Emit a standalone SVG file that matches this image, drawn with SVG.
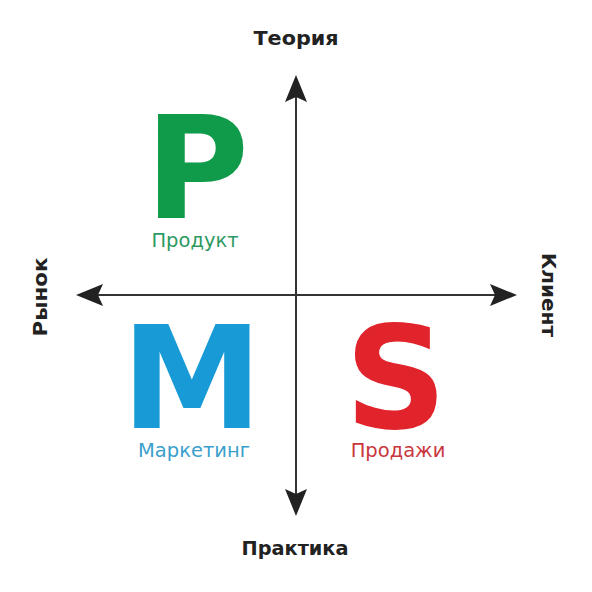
<svg xmlns="http://www.w3.org/2000/svg" width="592" height="592" viewBox="0 0 592 592">
<style>
.axis{stroke:#333;stroke-width:2;fill:none}
.head{fill:#222}
.lbl{font-family:"DejaVu Sans",Verdana,sans-serif;font-weight:bold;font-size:19px;fill:#222;text-anchor:middle}
.node{font-family:"DejaVu Sans",Verdana,sans-serif;text-anchor:middle}
.big{font-weight:bold;font-size:142px}
.sub{font-weight:normal;font-size:19.5px}
</style>
<rect width="592" height="592" fill="#fff"/>
<g id="connectors">
<line class="axis" x1="296" y1="95" x2="296" y2="497"/>
<line class="axis" x1="96" y1="295" x2="497" y2="295"/>
<path class="head" d="M296,75 L307,102 L296,97 L285,102 Z"/>
<path class="head" d="M296,516 L307,489 L296,494 L285,489 Z"/>
<path class="head" d="M76,295 L103,284 L98,295 L103,306 Z"/>
<path class="head" d="M517,295 L490,284 L495,295 L490,306 Z"/>
</g>
<g id="teoria"><text class="lbl" x="296" y="45" textLength="85" lengthAdjust="spacingAndGlyphs">Теория</text></g>
<g id="praktika"><text class="lbl" x="295" y="555" textLength="107" lengthAdjust="spacingAndGlyphs">Практика</text></g>
<g id="rynok"><text class="lbl" transform="translate(47,297) rotate(-90)" textLength="79" lengthAdjust="spacingAndGlyphs">Рынок</text></g>
<g id="klient"><text class="lbl" transform="translate(542,295) rotate(90)" textLength="84" lengthAdjust="spacingAndGlyphs">Клиент</text></g>
<g id="P"><text class="node"><tspan class="big" x="197" y="218" fill="#109b4b">P</tspan><tspan class="sub" x="195" y="247" fill="#2e9a62">Продукт</tspan></text></g>
<g id="M"><text class="node"><tspan class="big" x="192" y="428" fill="#189ad7">M</tspan><tspan class="sub" x="194" y="457" fill="#3a9fcb">Маркетинг</tspan></text></g>
<g id="S"><text class="node"><tspan class="big" x="396" y="428" fill="#e1232b">S</tspan><tspan class="sub" x="398" y="457" fill="#c9373e">Продажи</tspan></text></g>
</svg>
